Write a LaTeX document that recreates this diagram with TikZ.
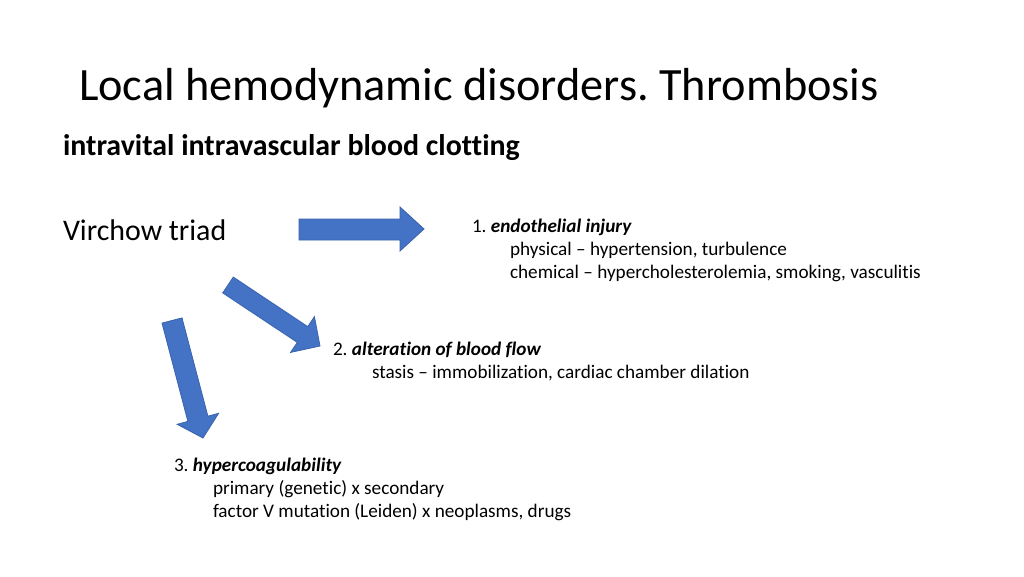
\documentclass[tikz,border=0pt]{standalone}
\usepackage{fontspec}
\setmainfont{Carlito}[Ligatures={NoCommon}]
\frenchspacing
\definecolor{arrowblue}{HTML}{4472C4}
\definecolor{arrowedge}{HTML}{3A63AE}
\begin{document}
\begin{tikzpicture}[x=1pt,y=-1pt,
  txt/.style={anchor=base west,inner sep=0pt,outer sep=0pt,text=black},
  title/.style={txt,font=\fontsize{46.3}{56}\selectfont},
  head/.style={txt,font=\bfseries\fontsize{29.9}{36}\selectfont},
  big/.style={txt,font=\fontsize{29.9}{36}\selectfont},
  item/.style={txt,font=\fontsize{19.2}{23}\selectfont},
  blockarrow/.style={fill=arrowblue,draw=arrowedge,line width=0.8pt,line join=miter}]
\useasboundingbox (0,0) rectangle (1024,576);
\fill[white] (0,0) rectangle (1024,576);
\node[title] (t) at (79,100) {Local hemodynamic disorders. Thrombosis};
\node[head] (h) at (63,155) {intravital intravascular blood clotting};
\node[big] (v) at (63,240) {Virchow triad};
% items
\node[item] (i1) at (472,232) {1. \textbf{\textit{endothelial injury}}};
\node[item] (i1a) at (510,255) {physical – hypertension, turbulence};
\node[item] (i1b) at (510,278) {chemical – hypercholesterolemia, smoking, vasculitis};
\node[item] (i2) at (333,355) {2. \textbf{\textit{alteration of blood flow}}};
\node[item] (i2a) at (372,378) {stasis – immobilization, cardiac chamber dilation};
\node[item] (i3) at (174,471) {3. \textbf{\textit{hypercoagulability}}};
\node[item] (i3a) at (213,494) {primary (genetic) x secondary};
\node[item] (i3b) at (213,517) {factor V mutation (Leiden) x neoplasms, drugs};
% block arrows
\draw[blockarrow] (299,219) -- (400,219) -- (400,207) -- (424,229) -- (400,251) -- (400,240) -- (299,240) -- cycle;
\draw[blockarrow] (233.3,277.1) -- (307.8,326.6) -- (314.4,316.6) -- (320,346) -- (290.6,352.4) -- (297.3,342.4) -- (222.7,292.9) -- cycle;
\draw[blockarrow] (182,317.9) -- (207.9,416.2) -- (218.6,413.3) -- (203,438) -- (177.2,424.3) -- (187.9,421.4) -- (162,323.1) -- cycle;
\end{tikzpicture}
\end{document}
